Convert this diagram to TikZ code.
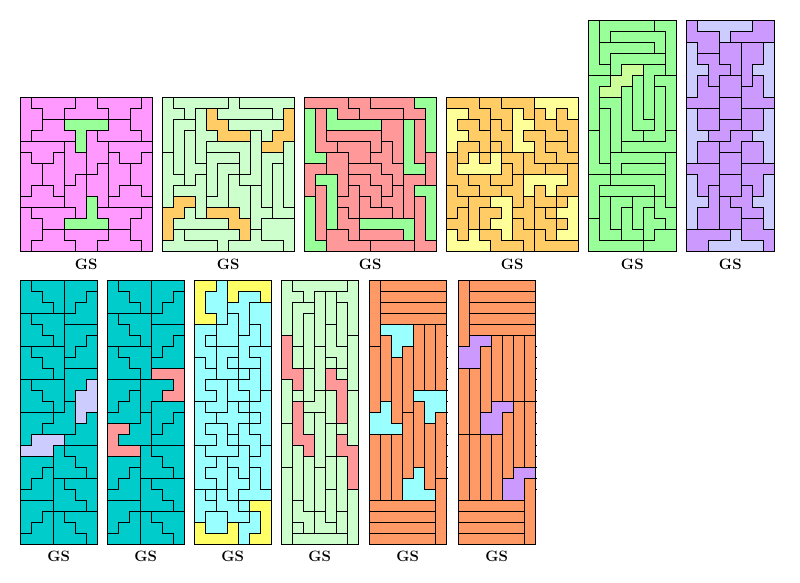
\documentclass[tikz,border=0pt]{standalone}
\usepackage{xcolor}
\definecolor{pmag}{HTML}{FF99FF}
\definecolor{pgreen}{HTML}{99FF99}
\definecolor{plgreen}{HTML}{CCFFCC}
\definecolor{porange}{HTML}{FFCC66}
\definecolor{psalmon}{HTML}{FF9999}
\definecolor{pyellowl}{HTML}{FFFF99}
\definecolor{pyg}{HTML}{CCFF99}
\definecolor{ppurple}{HTML}{CC99FF}
\definecolor{plav}{HTML}{CCCCFF}
\definecolor{pteal}{HTML}{00CCCC}
\definecolor{pcyan}{HTML}{99FFFF}
\definecolor{pyellow}{HTML}{FFFF66}
\definecolor{pcoral}{HTML}{FF9966}
\makeatletter
\newcount\gr@r \newcount\gr@c
\def\gridbegin#1{\gdef\gr@p{#1}\global\gr@r=0 }
\def\gridrow#1{\global\gr@c=0 \gr@parse#1\relax\global\advance\gr@r by 1 }
\def\gr@parse#1{\ifx#1\relax\else
  \expandafter\xdef\csname G@\gr@p @\the\gr@r @\the\gr@c\endcsname{#1}%
  \global\advance\gr@c by 1
  \expandafter\gr@parse\fi}
\expandafter\def\csname S@1\endcsname{}
\expandafter\def\csname S@2\endcsname{}
\expandafter\def\csname S@3\endcsname{}
\expandafter\def\csname S@4\endcsname{}
\expandafter\def\csname S@5\endcsname{}
\expandafter\def\csname S@6\endcsname{}
\expandafter\def\csname S@7\endcsname{}
\expandafter\def\csname S@8\endcsname{}
\expandafter\def\csname S@9\endcsname{}
% #1 x0, #2 y0, #3 ncols, #4 nrows, #5 base colour, #6 special colour, #7 grid id
\newcommand\tilepanel[7]{%
  \fill[#5] (#1,#2) rectangle ++({#3*11},{#4*11});
  \pgfmathtruncatemacro\pmr{#4-1}%
  \pgfmathtruncatemacro\pmc{#3-1}%
  \foreach \rr in {0,...,\pmr}{%
    \foreach \cc in {0,...,\pmc}{%
      \edef\cur{\csname G@#7@\rr @\cc\endcsname}%
      \expandafter\ifx\csname S@\cur\endcsname\relax\else
        \fill[#6] ({#1+\cc*11-0.3},{#2+\rr*11-0.3}) rectangle ++(11.6,11.6);
      \fi
    }%
  }%
  \foreach \rr in {0,...,\pmr}{%
    \foreach \cc in {0,...,\pmc}{%
      \edef\cur{\csname G@#7@\rr @\cc\endcsname}%
      \ifnum\cc<\pmc
        \pgfmathtruncatemacro\nc{\cc+1}%
        \edef\nxt{\csname G@#7@\rr @\nc\endcsname}%
        \ifx\cur\nxt\else\draw[bd] ({#1+\nc*11},{#2+\rr*11}) -- ++(0,11);\fi
      \fi
      \ifnum\rr<\pmr
        \pgfmathtruncatemacro\nr{\rr+1}%
        \edef\nxt{\csname G@#7@\nr @\cc\endcsname}%
        \ifx\cur\nxt\else\draw[bd] ({#1+\cc*11},{#2+\nr*11}) -- ++(11,0);\fi
      \fi
    }%
  }%
  \draw[bd] (#1,#2) rectangle ++({#3*11},{#4*11});
}
% ---------------- panel 1
\gridbegin{pa}
\gridrow{ABBBBCCDDDDE}
\gridrow{AABBCCCCDDEE}
\gridrow{AAFF1111GGEE}
\gridrow{AFFFF1HGGGGE}
\gridrow{IIIIJ1HHmmmm}
\gridrow{LIIKJJHHkmml}
\gridrow{LLKKJJHjkkll}
\gridrow{LLKKJhjjkkll}
\gridrow{LMMKhhjjkiil}
\gridrow{MMMMhh2jiiii}
\gridrow{eggggh2ffffa}
\gridrow{eegg2222ffaa}
\gridrow{eeddccccbbaa}
\gridrow{eddddccbbbba}
% ---------------- panel 2
\gridbegin{pb}
\gridrow{abbbbbcddddd}
\gridrow{aabe1cccccd2}
\gridrow{affe11ggggg2}
\gridrow{afhee111ig22}
\gridrow{afhejjjji22l}
\gridrow{mfhennnjikkl}
\gridrow{mfhhnppjikrl}
\gridrow{mmhsnpqiikrl}
\gridrow{msssnpqqwkrl}
\gridrow{m33sppqqwkrl}
\gridrow{33ts444qwwrr}
\gridrow{3ttttt44wyyy}
\gridrow{3vuuuuu4xyyy}
\gridrow{vvvvvuxxxxxy}
% ---------------- panel 3
\gridbegin{pc}
\gridrow{AAAABBCCCC11}
\gridrow{2D3AABBBBCC1}
\gridrow{2D33333EE4F1}
\gridrow{2DGGGGGEE4F1}
\gridrow{2DDHHHGIE4F1}
\gridrow{22JJHHIIE4FK}
\gridrow{LLJJMMMII44K}
\gridrow{L55JNNMMIOOK}
\gridrow{LP5JQNNMRO66}
\gridrow{7P5QQSNRROT6}
\gridrow{7P5UQSSSROT6}
\gridrow{7P5UU88888T6}
\gridrow{7PVVUWWWW8T6}
\gridrow{77VVVVXXXXTT}
% ---------------- panel 4
\gridbegin{pd}
\gridrow{AAABBCCC1111}
\gridrow{22AABB3CD1E1}
\gridrow{2FFAGB33DDEE}
\gridrow{22FFGG3HHDDE}
\gridrow{2IIFJG33HKKE}
\gridrow{LI4M4JJNHHKK}
\gridrow{L4444OJNNPPQ}
\gridrow{LLRROOS5555Q}
\gridrow{TLLRRSS5U5QQ}
\gridrow{TTVV66SWUUX7}
\gridrow{TYVZZ6WWaX77}
\gridrow{YYVZ66bWaaX7}
\gridrow{8Y8cc6bbda77}
\gridrow{8888cccbdddd}
% ---------------- panel 5
\gridbegin{pe}
\gridrow{ABBBBBCC}
\gridrow{ABDDDDDC}
\gridrow{AEEEEEDC}
\gridrow{AEFFFFFC}
\gridrow{AAF11GGC}
\gridrow{HH11JGKK}
\gridrow{H11MJGLK}
\gridrow{HIIMJGLK}
\gridrow{HNIMJGLK}
\gridrow{HNIMJJLK}
\gridrow{PNIMMLLO}
\gridrow{PNIOOOOO}
\gridrow{PNQQQQQR}
\gridrow{PPQSSSSR}
\gridrow{TTUUUUUR}
\gridrow{TVVVVVUR}
\gridrow{TWXXYYZR}
\gridrow{TWXaYbZZ}
\gridrow{cWXaYbbZ}
\gridrow{cWWaabdd}
\gridrow{cccccddd}
% ---------------- panel 6
\gridbegin{pf}
\gridrow{a11111bb}
\gridrow{aaa1bbbb}
\gridrow{3aaccdd4}
\gridrow{3eeccdd4}
\gridrow{33eecd44}
\gridrow{3feggdh4}
\gridrow{3ffgghh4}
\gridrow{fffjjhhh}
\gridrow{5iijjkk6}
\gridrow{5iimmkk6}
\gridrow{55mmMM66}
\gridrow{5KKMMII6}
\gridrow{5KKJJII6}
\gridrow{HHHJJFFF}
\gridrow{7HHGGFF8}
\gridrow{7HDGGEF8}
\gridrow{77DCEE88}
\gridrow{7DDCCEE8}
\gridrow{7DDCCAA8}
\gridrow{BBBB2AAA}
\gridrow{BB22222A}
% ---------------- panel 7
\gridbegin{pg}
\gridrow{abbbccc}
\gridrow{aabbccd}
\gridrow{aaabcdd}
\gridrow{efffddd}
\gridrow{eeffggg}
\gridrow{eeefggh}
\gridrow{ijjjghh}
\gridrow{iijjhhh}
\gridrow{iiijTTT}
\gridrow{klllTT1}
\gridrow{kkllT11}
\gridrow{kkklU11}
\gridrow{WWWUU1X}
\gridrow{WWUUUXX}
\gridrow{W222XXX}
\gridrow{222mnnn}
\gridrow{ooommnn}
\gridrow{oopmmmn}
\gridrow{oppqrrr}
\gridrow{pppqqrr}
\gridrow{sssqqqr}
\gridrow{sstuvvv}
\gridrow{sttuuvv}
\gridrow{tttuuuv}
% ---------------- panel 8
\gridbegin{ph}
\gridrow{abbbccc}
\gridrow{aabbccd}
\gridrow{aaabcdd}
\gridrow{efffddd}
\gridrow{eeffggg}
\gridrow{eeefggh}
\gridrow{ijjjghh}
\gridrow{iijjhhh}
\gridrow{iiij111}
\gridrow{kkkPPP1}
\gridrow{kklPP11}
\gridrow{kllPQQQ}
\gridrow{lllRQQS}
\gridrow{22RRQSS}
\gridrow{2RRRSSS}
\gridrow{222mnnn}
\gridrow{ooommnn}
\gridrow{oopmmmn}
\gridrow{oppqrrr}
\gridrow{pppqqrr}
\gridrow{sssqqqr}
\gridrow{sstuvvv}
\gridrow{sttuuvv}
\gridrow{tttuuuv}
% ---------------- panel 9
\gridbegin{pi}
\gridrow{11a2222}
\gridrow{1aa2bb2}
\gridrow{1aabbcc}
\gridrow{11adbcc}
\gridrow{eeddbfc}
\gridrow{egddffc}
\gridrow{eeggfhh}
\gridrow{iegjffh}
\gridrow{iiggjkh}
\gridrow{illjkkh}
\gridrow{iiljjkm}
\gridrow{nllokmm}
\gridrow{nnoookm}
\gridrow{nppoqmm}
\gridrow{nnprqqm}
\gridrow{sppprqt}
\gridrow{ssurrtt}
\gridrow{suuvrwt}
\gridrow{ssuvvwt}
\gridrow{xuyvwww}
\gridrow{xxyyv33}
\gridrow{xzzyyA3}
\gridrow{4zz4AA3}
\gridrow{4444A33}
% ---------------- panel 10
\gridbegin{pj}
\gridrow{abbbbbc}
\gridrow{aabdecc}
\gridrow{affdegc}
\gridrow{afhdegc}
\gridrow{afhdigc}
\gridrow{1fhdigj}
\gridrow{1khliij}
\gridrow{1khlmij}
\gridrow{11kl2mj}
\gridrow{n1kl22j}
\gridrow{nokom2p}
\gridrow{n3oom2p}
\gridrow{n3qrm2p}
\gridrow{s3qrtup}
\gridrow{s33rt4p}
\gridrow{sv3rt44}
\gridrow{svwrxy4}
\gridrow{zvwAxy4}
\gridrow{zvwAxy4}
\gridrow{zvwAByC}
\gridrow{zDwAByC}
\gridrow{zDDEBFC}
\gridrow{zGDEEFC}
\gridrow{zHHHHHC}
% ---------------- panel 11
\gridbegin{pk}
\gridrow{abbbbbb}
\gridrow{acccccc}
\gridrow{adddddd}
\gridrow{aeeeeee}
\gridrow{a111ghi}
\gridrow{aj11ghi}
\gridrow{kj1lghi}
\gridrow{kjmlghi}
\gridrow{kjmlghi}
\gridrow{kjmlghi}
\gridrow{kjml222}
\gridrow{k3mlo22}
\gridrow{33mqo2r}
\gridrow{333qosr}
\gridrow{tuvqosr}
\gridrow{tuvqosr}
\gridrow{tuvqosr}
\gridrow{tuvq4sr}
\gridrow{tuv44sx}
\gridrow{tuv444x}
\gridrow{yyyyyyx}
\gridrow{zzzzzzx}
\gridrow{AAAAAAx}
\gridrow{BBBBBBx}
% ---------------- panel 12
\gridbegin{pl}
\gridrow{abbbbbb}
\gridrow{acccccc}
\gridrow{adddddd}
\gridrow{aeeeeee}
\gridrow{affffff}
\gridrow{a11ghij}
\gridrow{11kghij}
\gridrow{11kghij}
\gridrow{lmkghij}
\gridrow{lmkghij}
\gridrow{lmkghij}
\gridrow{lmk22no}
\gridrow{lm22pno}
\gridrow{lm22pno}
\gridrow{qrstpno}
\gridrow{qrstpno}
\gridrow{qrstpno}
\gridrow{qrstp33}
\gridrow{qrst33u}
\gridrow{qrst33u}
\gridrow{vvvvvvu}
\gridrow{wwwwwwu}
\gridrow{xxxxxxu}
\gridrow{yyyyyyu}
\makeatother
\begin{document}
\begin{tikzpicture}[x=1pt,y=-1pt,
  bd/.style={draw=black,line width=1.2pt,line cap=rect},
  tick/.style={draw=black,line width=0.9pt},
  lbl/.style={font=\fontsize{15}{17}\selectfont\bfseries,inner sep=0pt}]
\useasboundingbox (0,0) rectangle (800,583);
\tilepanel{20.3}{97.3}{12}{14}{pmag}{pgreen}{pa}
\tilepanel{162.3}{97.3}{12}{14}{plgreen}{porange}{pb}
\tilepanel{304.3}{97.3}{12}{14}{psalmon}{pgreen}{pc}
\tilepanel{446.3}{97.3}{12}{14}{porange}{pyellowl}{pd}
\tilepanel{588.3}{20.3}{8}{21}{pgreen}{pyg}{pe}
\tilepanel{686.3}{20.3}{8}{21}{ppurple}{plav}{pf}
\tilepanel{20.3}{280.3}{7}{24}{pteal}{plav}{pg}
\tilepanel{107.3}{280.3}{7}{24}{pteal}{psalmon}{ph}
\tilepanel{194.3}{280.3}{7}{24}{pcyan}{pyellow}{pi}
\tilepanel{281.3}{280.3}{7}{24}{plgreen}{psalmon}{pj}
\tilepanel{369.3}{280.3}{7}{24}{pcoral}{pcyan}{pk}
\tilepanel{458.3}{280.3}{7}{24}{pcoral}{ppurple}{pl}
% small ticks on the right edge of the two bar panels
\foreach \k in {5,...,18}{\draw[tick] (446.3,{280.3+\k*11}) -- ++(1.8,0);}
\foreach \k in {6,...,19}{\draw[tick] (535.3,{280.3+\k*11}) -- ++(1.8,0);}
\node[lbl] (l1) at (86.3,264) {GS};
\node[lbl] (l2) at (228.3,264) {GS};
\node[lbl] (l3) at (370.3,264) {GS};
\node[lbl] (l4) at (512.3,264) {GS};
\node[lbl] (l5) at (632.3,264) {GS};
\node[lbl] (l6) at (730.3,264) {GS};
\node[lbl] (l7) at (58.8,556) {GS};
\node[lbl] (l8) at (145.8,556) {GS};
\node[lbl] (l9) at (232.8,556) {GS};
\node[lbl] (l10) at (319.8,556) {GS};
\node[lbl] (l11) at (407.8,556) {GS};
\node[lbl] (l12) at (496.8,556) {GS};
\end{tikzpicture}
\end{document}
